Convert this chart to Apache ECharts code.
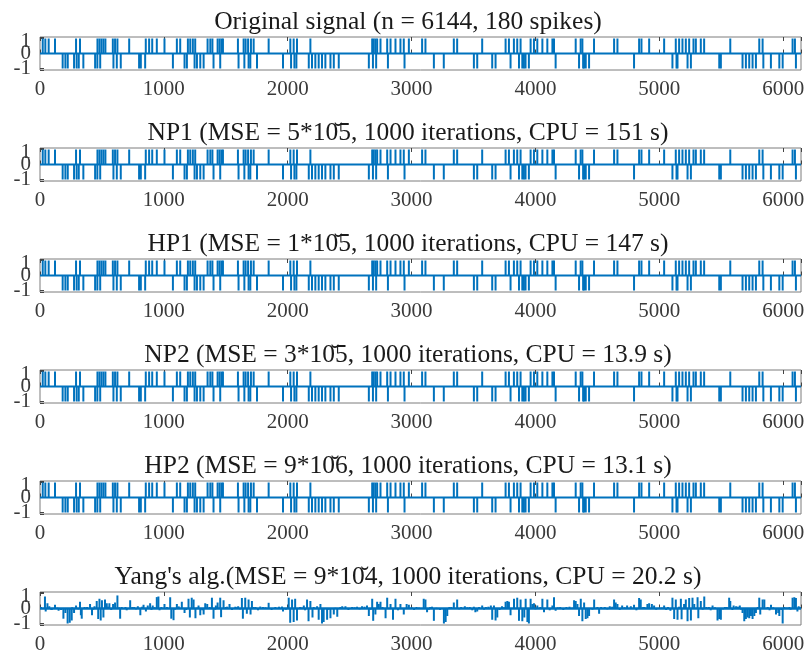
<!DOCTYPE html>
<html>
<head>
<meta charset="utf-8">
<script src="https://cdn.jsdelivr.net/npm/echarts/dist/echarts.min.js"></script>
<style>html,body{margin:0;padding:0;background:#fff}#c{width:808px;height:657px}</style>
</head>
<body>
<div id="c"></div>
<script>
// ---------- data ----------
var N = 6144;
var xTicks = [0, 1000, 2000, 3000, 4000, 5000, 6000];
var yTicks = [-1, 0, 1];
var titles = [
  "Original signal (n = 6144, 180 spikes)",
  "NP1 (MSE = 5*10\u03065, 1000 iterations, CPU = 151 s)",
  "HP1 (MSE = 1*10\u03065, 1000 iterations, CPU = 147 s)",
  "NP2 (MSE = 3*10\u03065, 1000 iterations, CPU = 13.9 s)",
  "HP2 (MSE = 9*10\u03066, 1000 iterations, CPU = 13.1 s)",
  "Yang's alg.(MSE = 9*10\u03064, 1000 iterations, CPU = 20.2 s)"
];
// positions of +1 spikes
var upPos = [22,43,70,121,291,323,464,480,496,512,528,588,606,625,720,854,881,906,943,1005,
  1105,1132,1194,1213,1234,1253,1353,1375,1392,1434,1450,1465,1477,1598,1644,1660,1680,1703,1725,1846,
  2021,2048,2075,2183,2682,2694,2708,2722,2749,2803,2830,2870,2910,2937,2978,3085,3112,3341,3368,3570,
  3759,3786,3826,3853,3880,3961,3988,4015,4056,4096,4137,4150,4325,4365,4379,4473,4635,4662,4837,4856,
  4918,5039,5133,5160,5187,5214,5241,5276,5295,5335,5362,5573,5807,5834,6076,6095];
// positions of -1 spikes
var downPos = [183,205,224,275,296,313,350,445,463,486,593,620,652,800,814,849,1073,1167,1186,1248,
  1267,1294,1321,1401,1455,1603,1650,1684,1698,1752,1962,2027,2054,2070,2170,2196,2223,2250,2277,2304,
  2345,2372,2412,2655,2688,2714,2809,2943,3180,3260,3503,3530,3651,3678,3799,3867,3894,3907,3920,3947,
  4163,4352,4385,4392,4406,4433,4796,5106,5139,5147,5228,5255,5484,5497,5672,5699,5726,5753,5780,5840,
  5901,5969,5996,6103];
// Yang's reconstruction: main peaks [position, value]
var yangPeaks = [[40,0.8],[46,-0.2],[60,0.35],[75,0.15],[95,-0.1],[121,0.25],[150,-0.15],[189,-0.68],[205,-0.3],[223,-1.0],
  [240,-0.95],[256,-0.8],[275,-0.3],[291,0.2],[323,0.45],[330,-0.45],[337,-0.68],[360,0.1],[404,0.3],[420,-0.45],
  [440,0.15],[458,0.5],[470,-0.7],[480,0.65],[490,-0.8],[500,0.55],[512,-0.6],[525,0.6],[539,0.35],[560,0.35],
  [590,0.3],[606,0.4],[625,0.87],[647,-0.68],[660,0.1],[690,0.1],[728,0.55],[760,0.1],[790,0.15],[810,-0.45],
  [836,0.25],[855,-0.2],[870,0.2],[889,0.35],[910,0.2],[943,0.76],[956,0.8],[980,0.1],[1005,0.3],[1051,0.75],
  [1060,-0.68],[1078,-0.78],[1105,0.3],[1145,0.45],[1167,-0.3],[1199,0.65],[1210,-0.6],[1225,0.72],[1240,0.6],[1255,-0.65],
  [1280,0.2],[1294,-0.45],[1321,-0.4],[1334,0.35],[1350,0.3],[1388,0.72],[1401,-0.68],[1420,0.2],[1434,0.4],[1455,0.72],
  [1462,-0.58],[1482,0.55],[1500,0.1],[1530,0.3],[1577,0.12],[1600,0.15],[1630,0.7],[1638,-0.68],[1657,0.72],[1670,-0.35],
  [1684,0.6],[1700,-0.4],[1711,0.5],[1740,0.1],[1778,0.13],[1800,0.1],[1846,0.38],[1900,0.1],[1954,0.13],[1962,-0.2],
  [2008,0.72],[2020,-0.95],[2035,0.6],[2048,-0.9],[2060,0.65],[2075,-0.8],[2100,0.1],[2130,0.2],[2156,0.6],[2168,-0.85],
  [2183,0.5],[2200,-0.6],[2237,0.15],[2250,-0.75],[2264,0.3],[2277,-1.0],[2290,-0.9],[2318,-0.75],[2345,-0.65],[2372,-0.4],
  [2385,0.05],[2400,-0.55],[2440,0.15],[2466,0.15],[2520,0.1],[2560,0.12],[2600,0.15],[2640,0.2],[2655,-0.5],[2682,0.65],
  [2690,-0.82],[2708,-0.4],[2722,0.45],[2735,0.3],[2749,0.45],[2790,-0.65],[2803,0.72],[2830,0.3],[2850,-0.75],[2870,0.65],
  [2910,0.3],[2937,-0.4],[2960,0.3],[2978,0.25],[3040,0.1],[3098,0.65],[3112,0.6],[3125,-0.25],[3150,0.1],[3180,-0.82],
  [3200,0.05],[3261,-1.0],[3275,-0.9],[3288,-0.5],[3320,0.1],[3341,0.4],[3368,0.6],[3400,0.1],[3430,0.15],[3470,0.1],
  [3503,0.12],[3515,-0.25],[3530,-0.2],[3570,0.2],[3600,0.1],[3640,0.2],[3651,-0.75],[3665,0.2],[3678,-0.8],[3692,-0.6],
  [3730,0.15],[3759,0.45],[3773,0.5],[3786,0.45],[3799,-0.45],[3827,0.65],[3853,0.72],[3867,-0.82],[3880,0.6],[3894,-0.85],
  [3910,-0.6],[3921,0.65],[3935,-0.9],[3947,-1.0],[3961,0.65],[3975,0.3],[3988,0.35],[4015,0.2],[4056,0.65],[4069,-0.25],
  [4096,0.6],[4137,0.2],[4150,0.75],[4163,-0.15],[4200,0.1],[4250,0.1],[4300,0.05],[4312,0.55],[4325,0.5],[4339,0.3],
  [4352,-0.5],[4366,0.65],[4379,-0.85],[4393,0.4],[4406,-0.7],[4420,-0.65],[4433,-0.5],[4474,0.6],[4500,0.1],[4514,-0.35],
  [4560,0.1],[4600,0.15],[4635,0.6],[4648,0.4],[4662,0.3],[4700,0.2],[4740,0.2],[4770,0.15],[4796,0.25],[4837,0.7],
  [4850,0.6],[4880,0.1],[4904,0.3],[4918,0.35],[4940,0.3],[4958,0.2],[5000,0.05],[5039,0.2],[5070,0.1],[5090,-0.15],
  [5106,0.72],[5120,-0.7],[5133,0.6],[5147,-0.75],[5174,0.65],[5180,-0.72],[5200,0.3],[5214,0.6],[5228,-0.85],[5241,0.7],
  [5255,-0.8],[5268,0.72],[5282,0.3],[5309,0.75],[5315,-0.65],[5335,0.5],[5363,0.8],[5400,0.1],[5430,0.2],[5470,-0.8],
  [5484,-0.7],[5497,-0.75],[5530,0.1],[5564,0.72],[5573,0.5],[5600,0.2],[5620,0.15],[5650,0.2],[5672,-0.3],[5686,-0.85],
  [5699,-0.7],[5713,-0.6],[5726,-0.65],[5740,-0.5],[5753,-0.7],[5767,-0.5],[5780,-0.3],[5807,0.72],[5815,-0.4],[5834,0.6],
  [5848,0.6],[5875,0.1],[5902,0.25],[5942,-0.4],[5960,-0.3],[5969,-0.5],[5996,-1.0],[6010,0.1],[6050,0.1],[6076,0.72],
  [6090,0.75],[6103,0.7],[6115,-0.2],[6125,0.15]];
// Yang's reconstruction: small background wiggles [position, value]
var yangNoise = [[8,0.1],[90,-0.08],[140,0.06],[170,-0.1],[260,0.08],[310,-0.06],[380,0.1],[430,-0.08],[550,0.12],[575,-0.1],
  [640,0.08],[700,-0.12],[745,0.1],[775,-0.06],[825,0.12],[900,-0.1],[925,0.08],[965,-0.12],[1025,0.1],[1090,-0.08],
  [1120,0.14],[1180,-0.1],[1270,0.06],[1310,-0.12],[1370,0.1],[1415,-0.08],[1510,0.12],[1550,-0.1],[1590,0.08],[1615,-0.06],
  [1725,0.1],[1760,-0.12],[1820,0.08],[1870,-0.1],[1930,0.12],[1985,-0.08],[2115,0.06],[2140,-0.12],[2210,0.1],[2330,-0.08],
  [2425,0.1],[2490,-0.1],[2540,0.08],[2580,-0.06],[2620,0.12],[2670,-0.08],[2765,0.1],[2890,-0.12],[3000,0.08],[3020,-0.1],
  [3060,0.06],[3140,-0.08],[3165,0.12],[3230,-0.1],[3305,0.1],[3385,-0.06],[3450,0.08],[3490,-0.12],[3545,0.1],[3585,-0.08],
  [3620,0.12],[3710,-0.1],[3745,0.08],[4000,-0.06],[4040,0.1],[4115,-0.12],[4180,0.08],[4225,-0.1],[4275,0.12],[4460,-0.08],
  [4530,0.1],[4580,-0.06],[4620,0.12],[4680,-0.1],[4720,0.08],[4815,-0.12],[4870,0.1],[4975,-0.08],[5020,0.06],[5055,-0.1],
  [5160,0.12],[5350,-0.08],[5380,0.1],[5415,-0.12],[5450,0.08],[5515,-0.06],[5545,0.1],[5590,-0.1],[5635,0.12],[5660,-0.08],
  [5795,0.1],[5890,-0.12],[5920,0.08],[5985,-0.1],[6030,0.06],[6060,-0.08],[6135,0.1]];

// ---------- spike lists (drawn as thin bars from 0) ----------
var origSpikes = upPos.map(function (p) { return [p, 1]; }).concat(downPos.map(function (p) { return [p, -1]; }));
var yangSpikes = yangNoise.concat(yangPeaks);
var spikeSets = [origSpikes, origSpikes, origSpikes, origSpikes, origSpikes, yangSpikes];
var baseline = [[0, 0], [N, 0]];

// ---------- chart ----------
var FONT = "'Liberation Serif','DejaVu Serif',serif";
var LBL = '#3a3a3a';
var BLUE = '#0072BD';
var tops = [37, 148, 259, 370, 481, 592];
var H = 33, L = 40, W = 761;
var grids = [], xAxes = [], yAxes = [], series = [], tcomp = [];
tops.forEach(function (t, k) {
  grids.push({ left: L, top: t, width: W, height: H, show: true, borderColor: '#7d7d7d', borderWidth: 1, backgroundColor: '#fff' });
  xAxes.push({
    type: 'value', gridIndex: k, min: 0, max: N, interval: 1000,
    axisLine: { show: false }, splitLine: { show: false },
    axisTick: { inside: true, length: 4, lineStyle: { color: '#444' } },
    axisLabel: { margin: 9, color: LBL, fontFamily: FONT, fontSize: 21,
      formatter: function (v) { return xTicks.indexOf(v) >= 0 ? String(v) : ''; } }
  });
  yAxes.push({
    type: 'value', gridIndex: k, min: -1.1, max: 1.1, splitNumber: 2,
    axisLine: { show: false }, splitLine: { show: false },
    axisTick: { inside: true, length: 4, lineStyle: { color: '#444' } },
    axisLabel: { margin: 9, color: LBL, fontFamily: FONT, fontSize: 21, interval: 0, hideOverlap: false,
      formatter: function (v) {
        if (yTicks.indexOf(v) < 0) return '';
        if (v === 1) return '{a|1}';
        if (v === -1) return '{b|-1}';
        return '{c|0}';
      },
      rich: {
        a: { fontFamily: FONT, fontSize: 21, color: LBL, lineHeight: 8, padding: [5, 0, 0, 0] },
        b: { fontFamily: FONT, fontSize: 21, color: LBL, lineHeight: 8 },
        c: { fontFamily: FONT, fontSize: 21, color: LBL, lineHeight: 8 }
      }
    }
  });
  series.push({
    type: 'line', xAxisIndex: k, yAxisIndex: k, data: baseline,
    showSymbol: false, symbol: 'none', animation: false, silent: true,
    lineStyle: { color: BLUE, width: k === 5 ? 2.4 : 1.8 }
  });
  series.push({
    type: 'bar', xAxisIndex: k, yAxisIndex: k, data: spikeSets[k],
    barWidth: 2, animation: false, silent: true,
    itemStyle: { color: BLUE }
  });
  tcomp.push({
    text: titles[k], left: 403, top: t - 33, textAlign: 'center',
    textStyle: { fontFamily: FONT, fontSize: 25.5, fontWeight: 'normal', color: '#1a1a1a' }
  });
});
// mirrored tick marks on the top edge of each box
tops.forEach(function (t, k) {
  xAxes.push({
    type: 'value', gridIndex: k, position: 'top', min: 0, max: N, interval: 1000,
    axisLine: { show: false }, splitLine: { show: false }, axisLabel: { show: false },
    axisTick: { inside: true, length: 4, lineStyle: { color: '#444' } }
  });
});

var chart = echarts.init(document.getElementById('c'), null, { renderer: 'canvas' });
chart.setOption({
  animation: false,
  backgroundColor: '#fff',
  title: tcomp,
  grid: grids,
  xAxis: xAxes,
  yAxis: yAxes,
  series: series
});
</script>
</body>
</html>
